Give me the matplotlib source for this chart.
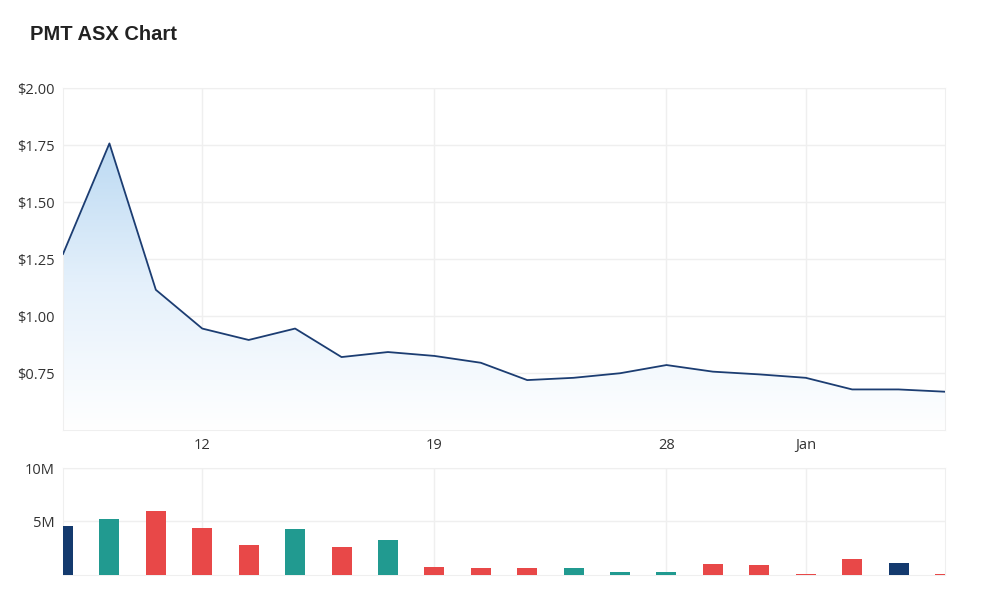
import numpy as np
import matplotlib
matplotlib.use("Agg")
import matplotlib.pyplot as plt
from matplotlib.colors import LinearSegmentedColormap

plt.rcParams['font.family'] = ['Open Sans', 'DejaVu Sans']

# trading days (index) and price / volume data
days = list(range(20))
price = [1.272, 1.757, 1.115, 0.945, 0.895, 0.945, 0.820, 0.842, 0.825, 0.795,
         0.719, 0.729, 0.749, 0.785, 0.756, 0.744, 0.729, 0.678, 0.678, 0.668]
volume = [4.62, 5.20, 5.94, 4.43, 2.80, 4.34, 2.60, 3.24, 0.78, 0.66,
          0.66, 0.66, 0.28, 0.28, 1.07, 0.97, 0.10, 1.50, 1.16, 0.10]  # millions
tick_pos = [3, 8, 13, 16]
tick_labels = ['12', '19', '28', 'Jan']
price_ticks = [0.75, 1.00, 1.25, 1.50, 1.75, 2.00]
vol_ticks = [5, 10]

up_col, down_col, flat_col = '#219a90', '#e84848', '#143a6e'
line_col = '#1c3d72'
grid_col = '#efefef'
text_col = '#333333'

# bar colour from price change vs previous day
bar_cols = [flat_col]
for i in range(1, len(price)):
    if price[i] > price[i - 1]:
        bar_cols.append(up_col)
    elif price[i] < price[i - 1]:
        bar_cols.append(down_col)
    else:
        bar_cols.append(flat_col)

fig = plt.figure(figsize=(10, 6), dpi=100)
ax = fig.add_axes([0.063, 0.2833, 0.882, 0.57])
axv = fig.add_axes([0.063, 0.0417, 0.882, 0.1783])

# price chart
x = np.array(days, dtype=float)
y = np.array(price)
poly = ax.fill_between(x, y, 0.5, color='none', lw=0)
cmap = LinearSegmentedColormap.from_list('g', ['#ffffff', '#e4f0fb', '#b9d8f2'])
grad = np.linspace(0, 1, 256).reshape(-1, 1)
im = ax.imshow(grad, cmap=cmap, aspect='auto', extent=[0, 19, 0.5, 1.8],
               origin='lower', zorder=1)
im.set_clip_path(poly.get_paths()[0], transform=ax.transData)
ax.plot(x, y, color=line_col, lw=1.3, zorder=3)
ax.set_xlim(0, 19)
ax.set_ylim(0.5, 2.0)

ax.set_yticks(price_ticks)
ax.set_yticklabels(['$%.2f' % v for v in price_ticks])
ax.set_xticks(tick_pos)
ax.set_xticklabels(tick_labels)
ax.grid(True, color=grid_col, lw=1)
ax.set_axisbelow(True)
for s in ax.spines.values():
    s.set_color(grid_col)
ax.tick_params(length=0, labelsize=10.5, labelcolor=text_col, pad=6)

# volume chart
axv.bar(x, volume, width=0.43, color=bar_cols, zorder=3)
axv.set_xlim(0, 19)
axv.set_ylim(0, 10)
axv.set_yticks(vol_ticks)
axv.set_yticklabels(['%dM' % v for v in vol_ticks])
axv.set_xticks(tick_pos)
axv.set_xticklabels([])
axv.grid(True, color=grid_col, lw=1)
axv.set_axisbelow(True)
for s in axv.spines.values():
    s.set_color(grid_col)
axv.tick_params(length=0, labelsize=10.5, labelcolor=text_col, pad=6)

fig.text(0.03, 0.942, 'PMT ASX Chart', fontsize=14.5, fontweight='bold',
         family=['Liberation Sans', 'DejaVu Sans'],
         color='#222222', va='center', ha='left')

fig.savefig('out.png', dpi=100)
